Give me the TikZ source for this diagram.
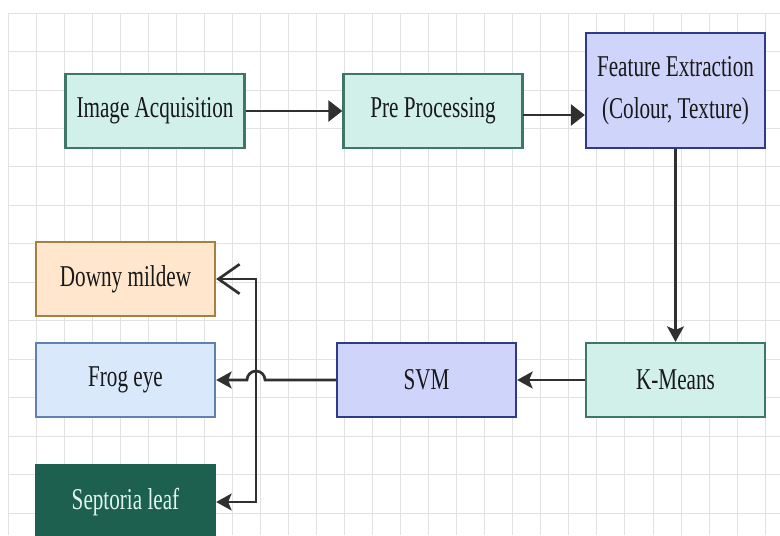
\documentclass[tikz,border=0pt]{standalone}
\usepackage{fontspec}
\setmainfont{Liberation Serif}[FakeStretch=0.7]
\usetikzlibrary{arrows.meta}

\definecolor{mintfill}{RGB}{208,240,233}
\definecolor{mintline}{RGB}{62,118,104}
\definecolor{lilacfill}{RGB}{207,212,250}
\definecolor{lilacline}{RGB}{48,58,138}
\definecolor{peachfill}{RGB}{255,230,204}
\definecolor{peachline}{RGB}{166,128,62}
\definecolor{skyfill}{RGB}{218,232,252}
\definecolor{skyline}{RGB}{96,128,176}
\definecolor{pinefill}{RGB}{30,96,80}
\definecolor{pinetext}{RGB}{224,245,238}
\definecolor{wire}{RGB}{48,48,48}
\definecolor{gridgray}{RGB}{226,226,226}

\begin{document}
\begin{tikzpicture}[x=0.025cm, y=-0.025cm,
    box/.style={draw, line width=1.6pt, inner sep=0pt, align=center,
      minimum width=4.475cm, minimum height=1.85cm,
      font=\fontsize{21.5}{29.6}\selectfont, text=black!90},
    mint/.style={fill=mintfill, draw=mintline},
    lilac/.style={fill=lilacfill, draw=lilacline},
    peach/.style={fill=peachfill, draw=peachline},
    sky/.style={fill=skyfill, draw=skyline},
    pine/.style={fill=pinefill, draw=pinefill, text=pinetext},
    flow/.style={draw=wire, line width=1.9pt},
    tri/.style={-{Triangle[length=10pt,width=15pt]}},
    classic/.style={-{Stealth[length=11pt,width=12pt,inset=2.5pt]}}]
  \useasboundingbox (0,0) rectangle (780,535);
  \clip (0,0) rectangle (780,535);

  % Background grid
  \foreach \k in {0,...,27}
    \draw[gridgray, line width=0.6pt] ({8+28.04*\k},13) -- ({8+28.04*\k},535);
  \foreach \k in {0,...,13}
    \draw[gridgray, line width=0.6pt] (8,{13+38.46*\k}) -- (780,{13+38.46*\k});

  % Top row
  \node[box, mint] (acq) at (155,111) {Image Acquisition};
  \node[box, mint] (pre) at (433,111) {Pre Processing};
  \node[box, lilac, minimum height=2.875cm] (feat) at (675.5,90.5) {Feature Extraction\\(Colour, Texture)};

  % Middle row
  \node[box, mint] (kmeans) at (675.5,380) {K-Means};
  \node[box, lilac] (svm) at (426.5,380) {SVM};

  % Classes
  \node[box, peach] (mildew) at (125.5,279) {Downy mildew};
  \node[box, sky] (frog) at (125.5,380) {Frog eye};
  \node[box, pine] (septoria) at (125.5,502) {Septoria leaf};

  \draw[flow, tri] (acq) -- (pre);
  \coordinate (preout) at (523,115);
  \draw[flow, tri] (preout) -- (preout -| feat.west);
  \draw[flow, classic] (feat) -- (kmeans);
  \draw[flow, classic] (kmeans) -- (svm);

  % Jump over the bus
  \coordinate (hop) at (265,380);
  \draw[flow, classic] (svm) -- (hop) arc (0:-180:9) -- (frog);

  \coordinate (bus) at (256,380);
  \draw[flow, {Straight Barb[length=15pt,width=21pt]}-{Stealth[length=11pt,width=12pt,inset=2.5pt]}]
    (mildew) -| (bus) |- (septoria);
\end{tikzpicture}
\end{document}
